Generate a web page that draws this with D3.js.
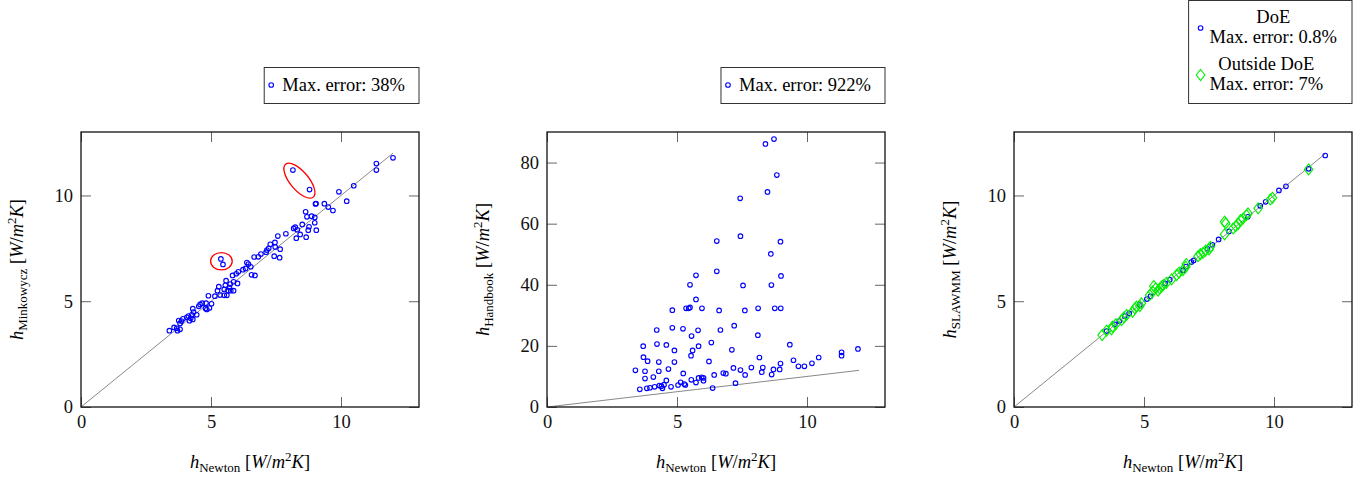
<!DOCTYPE html>
<html>
<head>
<meta charset="utf-8">
<script src="https://cdn.jsdelivr.net/npm/d3@7"></script>
<style>
  body { margin: 0; background: #fff; }
  svg { display: block; }
</style>
</head>
<body>
<svg id="chart" width="1368" height="481"></svg>
<script>
// ---------- Data ----------

const newtonTicks = [0, 5, 10];
const minkowyczTicks = [0, 5, 10];
const handbookTicks = [0, 20, 40, 60, 80];
const slawmmTicks = [0, 5, 10];

const identityLine = [[0, 0], [12, 12]];

// panel 1: h_Newton vs h_Minkowycz
const minkowyczPoints = [
  [12.0, 11.78], [11.36, 11.51], [11.36, 11.2], [10.49, 10.46], [9.92, 10.17], [10.22, 9.73],
  [9.36, 9.61], [9.51, 9.45], [9.69, 9.29], [9.02, 9.6], [9.04, 9.62], [8.15, 11.2], [8.79, 10.28],
  [8.64, 9.23], [8.69, 8.99], [8.87, 9.02], [8.99, 8.96], [8.99, 8.71], [8.77, 8.52], [8.74, 8.36],
  [9.05, 8.36], [8.51, 8.63], [8.18, 8.44], [8.24, 8.5], [8.32, 8.38], [8.28, 7.98], [8.66, 8.03],
  [8.43, 8.16], [7.88, 8.19], [7.57, 8.08], [7.46, 7.78], [7.28, 7.69], [7.47, 7.56], [7.66, 7.46],
  [7.22, 7.5], [7.15, 7.42], [7.12, 7.32], [7.43, 7.13], [7.64, 7.06], [6.92, 7.23], [6.82, 7.10],
  [6.66, 7.09], [6.38, 6.83], [6.44, 6.76], [6.53, 6.63], [6.33, 6.55], [6.23, 6.49], [6.56, 6.25],
  [6.69, 6.22], [5.38, 7.0], [5.46, 6.74], [6.05, 6.39], [5.97, 6.30], [5.83, 6.22], [6.02, 5.84],
  [5.87, 5.92], [5.74, 5.81], [5.58, 5.97], [5.55, 5.75], [5.71, 5.65], [5.76, 5.50], [5.87, 5.50],
  [5.51, 5.56], [5.66, 5.50], [5.30, 5.69], [5.25, 5.50], [5.35, 5.29], [5.51, 5.28], [5.61, 5.28],
  [5.15, 5.24], [4.90, 5.26], [5.02, 4.88], [4.81, 4.91], [4.66, 4.91], [4.58, 4.85], [4.53, 4.76],
  [4.79, 4.66], [4.94, 4.68], [4.84, 4.61], [4.30, 4.65], [4.33, 4.49], [4.45, 4.36], [4.26, 4.36],
  [4.13, 4.30], [4.22, 4.19], [4.07, 4.24], [3.92, 4.17], [3.76, 4.09], [3.86, 4.06], [3.81, 3.95],
  [4.30, 4.14], [4.17, 4.08], [3.58, 3.76], [3.40, 3.61], [3.68, 3.72], [3.71, 3.61], [3.81, 3.67]
];

// centres of the two red outlier rings on panel 1
const outlierCentres = [[8.40, 10.70], [5.40, 6.89]];

// panel 2: h_Newton vs h_Handbook
const handbookPoints = [
  [8.73, 87.7], [8.40, 86.1], [8.84, 75.9], [8.48, 70.4], [7.43, 68.3], [7.44, 55.9], [6.53, 54.3],
  [8.98, 54.1], [8.61, 50.1], [6.53, 44.4], [5.73, 43.1], [9.0, 42.9], [5.50, 40.0], [7.54, 39.8],
  [8.63, 39.9], [5.73, 35.2], [5.35, 32.3], [5.45, 32.3], [5.50, 32.6], [5.96, 32.3], [4.82, 31.7],
  [6.62, 31.6], [7.61, 31.6], [8.12, 32.3], [8.76, 32.3], [8.99, 32.3], [4.82, 25.9], [5.23, 25.6],
  [4.22, 25.2], [5.81, 25.1], [6.67, 25.2], [7.20, 26.6], [5.56, 23.2], [8.11, 23.5], [6.32, 21.1],
  [4.23, 20.6], [4.59, 20.3], [3.70, 19.9], [5.83, 19.9], [9.34, 20.4], [4.90, 18.5], [5.60, 18.5],
  [7.11, 18.7], [11.96, 19.0], [11.33, 17.9], [11.33, 16.8], [10.45, 16.2], [3.71, 16.3], [5.54, 16.8],
  [8.17, 16.2], [3.87, 15.0], [4.30, 14.7], [4.90, 14.7], [6.23, 14.9], [9.48, 15.3], [8.98, 14.2],
  [10.19, 14.3], [9.67, 13.3], [9.90, 13.3], [7.17, 12.8], [7.86, 12.9], [8.30, 12.9], [7.44, 12.1],
  [8.71, 12.3], [8.95, 12.3], [4.67, 12.4], [3.40, 12.0], [3.77, 11.7], [4.30, 11.7], [8.26, 11.4],
  [5.24, 11.0], [6.78, 11.1], [6.88, 10.9], [6.43, 10.5], [7.62, 10.5], [8.64, 10.6], [4.09, 9.8],
  [3.77, 9.3], [5.83, 9.5], [5.95, 9.7], [6.02, 9.5], [5.55, 8.9], [4.59, 8.7], [6.02, 8.6],
  [5.14, 8.1], [5.73, 8.0], [7.25, 7.8], [4.50, 7.3], [4.32, 7.0], [4.40, 6.8], [4.14, 6.6],
  [3.96, 6.3], [3.84, 6.1], [3.57, 5.8], [4.44, 6.1], [4.77, 6.6], [5.04, 7.2], [5.28, 7.5],
  [5.32, 7.2], [6.37, 6.2]
];

// panel 3: h_Newton vs h_SLAWMM, inside the DoE
const doePoints = [
  [11.97, 11.89], [11.33, 11.26], [10.46, 10.43], [10.19, 10.24], [9.68, 9.70], [9.47, 9.51],
  [8.99, 8.99], [8.27, 8.30], [7.87, 7.92], [7.63, 7.67], [7.44, 7.48], [6.91, 6.93], [6.82, 6.85],
  [6.50, 6.47], [5.99, 6.02], [5.81, 5.84], [5.11, 5.10], [4.84, 4.82], [4.43, 4.43], [4.26, 4.30],
  [3.88, 3.91], [3.56, 3.59], [4.05, 4.06], [5.25, 5.23], [6.62, 6.64]
];

// panel 3: outside the DoE
const outsidePoints = [
  [3.39, 3.40], [3.56, 3.61], [3.75, 3.67], [3.79, 3.80], [3.92, 3.92], [4.14, 4.11], [4.23, 4.24],
  [4.33, 4.35], [4.56, 4.50], [4.65, 4.66], [4.71, 4.74], [4.84, 4.77], [4.90, 4.90], [5.22, 5.29],
  [5.33, 5.45], [5.38, 5.72], [5.45, 5.61], [5.54, 5.50], [5.61, 5.61], [5.67, 5.69], [5.74, 5.76],
  [5.86, 5.87], [6.06, 6.03], [6.25, 6.24], [6.35, 6.35], [6.50, 6.47], [6.61, 6.63], [6.63, 6.76],
  [7.08, 7.13], [7.17, 7.23], [7.27, 7.29], [7.37, 7.39], [7.50, 7.45], [7.55, 7.57], [8.10, 8.16],
  [8.10, 8.76], [8.14, 8.68], [8.43, 8.44], [8.53, 8.55], [8.62, 8.65], [8.71, 8.83], [8.81, 8.91],
  [8.94, 9.07], [9.00, 9.15], [9.39, 9.39], [9.86, 9.81], [9.94, 9.89], [11.33, 11.23]
];

// ---------- Layout ----------

const serif = "'Liberation Serif', 'Times New Roman', serif";
const svg = d3.select("#chart").attr("font-family", serif);
const plotW = 338, plotH = 275, plotTop = 132;
const fs = 18.5, subFs = 13;
const blue = "#0000ff", green = "#00f000";

function label(text, sub) {
  text.append("tspan").attr("font-style", "italic").text("h");
  text.append("tspan").attr("font-size", subFs).attr("dy", 4).text(sub);
  text.append("tspan").attr("dy", -4).text(" [");
  text.append("tspan").attr("font-style", "italic").text("W");
  text.append("tspan").text("/");
  text.append("tspan").attr("font-style", "italic").text("m");
  text.append("tspan").attr("font-size", subFs).attr("dy", -7).text("2");
  text.append("tspan").attr("font-style", "italic").attr("dy", 7).text("K");
  text.append("tspan").text("]");
}

function circleMark(sel) {
  sel.attr("r", 2.3).attr("fill", "none").attr("stroke", blue).attr("stroke-width", 1.1);
}

const diamond = "M0,-5.5L4.3,0L0,5.5L-4.3,0Z";
function diamondMark(sel) {
  sel.attr("d", diamond).attr("fill", "none").attr("stroke", green).attr("stroke-width", 1.1);
}

function drawPanel(left, yMax, yTicks, yName) {
  const g = svg.append("g").attr("transform", `translate(${left},${plotTop})`);
  const x = d3.scaleLinear().domain([0, 13]).range([0, plotW]);
  const y = d3.scaleLinear().domain([0, yMax]).range([plotH, 0]);

  const axes = [
    [d3.axisBottom(x).tickValues(newtonTicks), `translate(0,${plotH})`],
    [d3.axisLeft(y).tickValues(yTicks), null],
    [d3.axisTop(x).tickValues(newtonTicks).tickFormat(""), null],
    [d3.axisRight(y).tickValues(yTicks).tickFormat(""), `translate(${plotW},0)`]
  ];
  axes.forEach(([axis, tr]) => {
    const a = g.append("g")
      .call(axis.tickSizeInner(-10).tickSizeOuter(0).tickPadding(8));
    if (tr) a.attr("transform", tr);
    a.attr("font-family", serif).attr("font-size", fs);
    a.select(".domain").remove();
    a.selectAll(".tick line").attr("stroke", "#666").attr("stroke-width", 1);
    a.selectAll(".tick text").attr("fill", "#111").attr("font-family", serif);
  });

  g.append("path")
    .datum(identityLine)
    .attr("d", d3.line().x(d => x(d[0])).y(d => y(d[1])))
    .attr("fill", "none")
    .attr("stroke", "#888")
    .attr("stroke-width", 1);

  g.append("rect")
    .attr("width", plotW).attr("height", plotH)
    .attr("fill", "none").attr("stroke", "#111").attr("stroke-width", 1.3);

  label(g.append("text")
    .attr("x", plotW / 2).attr("y", plotH + 61)
    .attr("text-anchor", "middle").attr("font-size", fs), "Newton");

  label(g.append("text")
    .attr("transform", `translate(-58,${plotH / 2}) rotate(-90)`)
    .attr("text-anchor", "middle").attr("font-size", fs), yName);

  return { g, x, y, left };
}

function singleLegend(p, txt) {
  const g = svg.append("g");
  const t = g.append("text").attr("font-size", fs).attr("y", 91).text(txt);
  const w = 18 + t.node().getComputedTextLength() + 14;
  const l = p.left + plotW - w;
  t.attr("x", l + 18);
  g.insert("rect", "text")
    .attr("x", l).attr("y", 67.5).attr("width", w).attr("height", 36)
    .attr("fill", "#fff").attr("stroke", "#333").attr("stroke-width", 1);
  g.append("circle").attr("cx", l + 7).attr("cy", 85).call(circleMark);
}

// ---------- Panel 1 ----------
const p1 = drawPanel(81, 13, minkowyczTicks, "Minkowycz");
p1.g.append("g").selectAll("circle")
  .data(minkowyczPoints).join("circle")
  .attr("cx", d => p1.x(d[0])).attr("cy", d => p1.y(d[1]))
  .call(circleMark);

const rings = [{ rx: 21.5, ry: 9.2, rot: 50 }, { rx: 10.8, ry: 8.7, rot: 0 }];
p1.g.append("g").selectAll("ellipse")
  .data(outlierCentres).join("ellipse")
  .attr("transform", (d, i) => `translate(${p1.x(d[0])},${p1.y(d[1])}) rotate(${rings[i].rot})`)
  .attr("rx", (d, i) => rings[i].rx).attr("ry", (d, i) => rings[i].ry)
  .attr("fill", "none").attr("stroke", "#ff0000").attr("stroke-width", 1.3);

singleLegend(p1, "Max. error: 38%");

// ---------- Panel 2 ----------
const p2 = drawPanel(547, 90, handbookTicks, "Handbook");
p2.g.append("g").selectAll("circle")
  .data(handbookPoints).join("circle")
  .attr("cx", d => p2.x(d[0])).attr("cy", d => p2.y(d[1]))
  .call(circleMark);

singleLegend(p2, "Max. error: 922%");

// ---------- Panel 3 ----------
const p3 = drawPanel(1014, 13, slawmmTicks, "SLAWMM");
p3.g.append("g").selectAll("circle")
  .data(doePoints).join("circle")
  .attr("cx", d => p3.x(d[0])).attr("cy", d => p3.y(d[1]))
  .call(circleMark);
p3.g.append("g").selectAll("path")
  .data(outsidePoints).join("path")
  .attr("transform", d => `translate(${p3.x(d[0])},${p3.y(d[1])})`)
  .call(diamondMark);

// two-entry legend
const entries = [
  { lines: ["DoE", "Max. error: 0.8%"], mark: "circle" },
  { lines: ["Outside DoE", "Max. error: 7%"], mark: "diamond" }
];
const lg = svg.append("g");
const box = lg.append("rect");
let maxW = 0;
const baselines = [[23, 43], [70, 90]];
entries.forEach((e, i) => {
  const ts = e.lines.map((s, j) => lg.append("text")
    .attr("font-size", fs).attr("y", baselines[i][j]).attr("text-anchor", "middle").text(s));
  const w = d3.max(ts, t => t.node().getComputedTextLength());
  maxW = Math.max(maxW, w);
  e.ts = ts; e.w = w;
});
const lgW = 21 + maxW + 15;
const lgL = p3.left + plotW - lgW;
box.attr("x", lgL).attr("y", 0.5).attr("width", lgW).attr("height", 103)
  .attr("fill", "#fff").attr("stroke", "#333").attr("stroke-width", 1);
entries.forEach((e, i) => {
  e.ts.forEach(t => t.attr("x", lgL + 21 + e.w / 2));
  const my = (baselines[i][0] + baselines[i][1]) / 2 - 5;
  if (e.mark === "circle") lg.append("circle").attr("cx", lgL + 12).attr("cy", my).call(circleMark);
  else lg.append("path").attr("transform", `translate(${lgL + 12},${my})`).call(diamondMark);
});
</script>
</body>
</html>
